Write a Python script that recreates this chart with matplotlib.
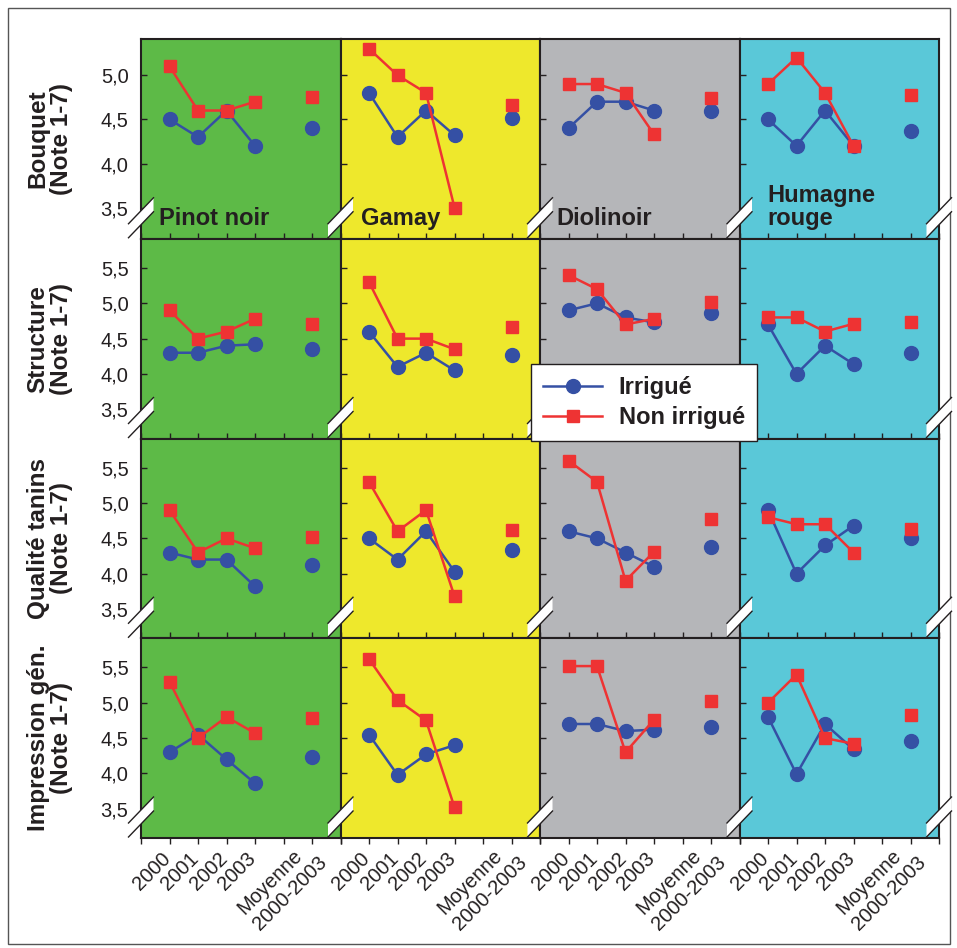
import matplotlib.pyplot as plt
import numpy as np
from matplotlib.lines import Line2D
from matplotlib.patches import Polygon, Rectangle
from matplotlib.ticker import FuncFormatter
from matplotlib.transforms import ScaledTranslation

plt.rcParams["font.family"] = ["Liberation Sans", "DejaVu Sans"]

cepages = ["Pinot noir", "Gamay", "Diolinoir", "Humagne\nrouge"]
criteres = ["Bouquet\n(Note 1-7)", "Structure\n(Note 1-7)",
            "Qualité tanins\n(Note 1-7)", "Impression gén.\n(Note 1-7)"]
x_labels = ["2000", "2001", "2002", "2003", "Moyenne\n2000-2003"]
x_pos = [0, 1, 2, 3, 5]

# 2000, 2001, 2002, 2003, moyenne 2000-2003 -- une ligne par cépage
irrigue_bouquet = [
    [4.50, 4.30, 4.60, 4.20, 4.40],
    [4.80, 4.30, 4.60, 4.32, 4.51],
    [4.40, 4.70, 4.70, 4.60, 4.60],
    [4.50, 4.20, 4.60, 4.20, 4.37],
]
non_irrigue_bouquet = [
    [5.10, 4.60, 4.60, 4.70, 4.75],
    [5.30, 5.00, 4.80, 3.50, 4.66],
    [4.90, 4.90, 4.80, 4.33, 4.74],
    [4.90, 5.20, 4.80, 4.20, 4.78],
]
irrigue_structure = [
    [4.30, 4.30, 4.40, 4.42, 4.36],
    [4.60, 4.10, 4.30, 4.05, 4.27],
    [4.90, 5.00, 4.80, 4.73, 4.86],
    [4.70, 4.00, 4.40, 4.14, 4.30],
]
non_irrigue_structure = [
    [4.90, 4.50, 4.60, 4.78, 4.71],
    [5.30, 4.50, 4.50, 4.35, 4.66],
    [5.40, 5.20, 4.70, 4.78, 5.02],
    [4.80, 4.80, 4.60, 4.71, 4.73],
]
irrigue_tanins = [
    [4.30, 4.20, 4.20, 3.82, 4.13],
    [4.50, 4.20, 4.60, 4.03, 4.33],
    [4.60, 4.50, 4.30, 4.10, 4.38],
    [4.90, 4.00, 4.40, 4.68, 4.51],
]
non_irrigue_tanins = [
    [4.90, 4.30, 4.50, 4.36, 4.52],
    [5.30, 4.60, 4.90, 3.68, 4.62],
    [5.60, 5.30, 3.90, 4.31, 4.78],
    [4.80, 4.70, 4.70, 4.30, 4.63],
]
irrigue_impression = [
    [4.30, 4.55, 4.20, 3.86, 4.23],
    [4.55, 3.98, 4.27, 4.40, np.nan],
    [4.70, 4.70, 4.60, 4.62, 4.66],
    [4.80, 3.99, 4.70, 4.34, 4.46],
]
non_irrigue_impression = [
    [5.30, 4.50, 4.80, 4.57, 4.79],
    [5.62, 5.04, 4.75, 3.52, np.nan],
    [5.52, 5.52, 4.30, 4.76, 5.02],
    [5.00, 5.40, 4.50, 4.42, 4.83],
]

irrigue = [irrigue_bouquet, irrigue_structure, irrigue_tanins, irrigue_impression]
non_irrigue = [non_irrigue_bouquet, non_irrigue_structure,
               non_irrigue_tanins, non_irrigue_impression]

fonds = ["#5DBA47", "#EEE82C", "#B5B6B9", "#5AC8D8"]
bleu = "#3550A4"
rouge = "#EE3333"
noir = "#231F20"

W, H = 957, 948
fig, axes = plt.subplots(4, 4, figsize=(W / 100, H / 100), dpi=100,
                         gridspec_kw=dict(wspace=0, hspace=0))
fig.subplots_adjust(left=141 / W, right=939 / W, top=1 - 39 / H, bottom=1 - 838 / H)

virgule = FuncFormatter(lambda v, p: f"{v:.1f}".replace(".", ","))
titre_x = [0.09, 0.105, 0.08, 0.14]

# petits décalages (en pixels) des étiquettes inclinées
decal_annee = ScaledTranslation(-9 / 100, 1.6 / 100, fig.dpi_scale_trans)
decal_moy = ScaledTranslation(-10 / 100, 13.6 / 100, fig.dpi_scale_trans)

for i in range(4):
    for j in range(4):
        ax = axes[i, j]
        ax.set_facecolor(fonds[j])
        irr = irrigue[i][j]
        non = non_irrigue[i][j]
        ax.plot(x_pos[:4], irr[:4], color=bleu, lw=1.8, marker="o", ms=10)
        ax.plot(x_pos[4], irr[4], color=bleu, ls="none", marker="o", ms=10)
        ax.plot(x_pos[:4], non[:4], color=rouge, lw=1.8, marker="s", ms=9)
        ax.plot(x_pos[4], non[4], color=rouge, ls="none", marker="s", ms=9)

        ax.set_xlim(-1, 6)
        if i == 0:
            ax.set_ylim(3.148, 5.41)
            ax.set_yticks([3.5, 4.0, 4.5, 5.0])
        else:
            ax.set_ylim(3.086, 5.914)
            ax.set_yticks([3.5, 4.0, 4.5, 5.0, 5.5])
        ax.yaxis.set_major_formatter(virgule)
        ax.tick_params(axis="y", direction="in", length=4, width=1, color=noir,
                       labelsize=14.5, labelcolor=noir, pad=9,
                       labelleft=(j == 0))
        ax.set_xticks(range(-1, 7))
        if i == 3:
            ax.set_xticklabels([""] + x_labels[:4] + [""] + [x_labels[4], ""])
            ax.tick_params(axis="x", direction="out", length=4, width=1, color=noir,
                           labelsize=14.5, labelcolor=noir, pad=5)
            for lab in ax.get_xticklabels():
                lab.set_rotation(45)
                lab.set_ha("right")
                lab.set_va("top")
                lab.set_rotation_mode("anchor")
                lab.set_multialignment("left")
                if "\n" in lab.get_text():
                    lab.set_transform(lab.get_transform() + decal_moy)
                else:
                    lab.set_transform(lab.get_transform() + decal_annee)
        else:
            ax.tick_params(axis="x", direction="in", length=4, width=1, color=noir,
                           labelbottom=False)
        for s in ax.spines.values():
            s.set_color(noir)
            s.set_linewidth(1.5)

        if i == 0:
            ax.text(titre_x[j], 0.07, cepages[j], transform=ax.transAxes,
                    fontsize=17, fontweight="bold", color=noir,
                    ha="left", va="baseline", linespacing=1.0)

    pos = axes[i, 0].get_position()
    fig.text(50 / W, (pos.y0 + pos.y1) / 2, criteres[i], rotation=90,
             ha="center", va="center", multialignment="center",
             fontsize=17.5, fontweight="bold", color=noir, linespacing=1.05)


# marques de coupure "//" sur les bords verticaux, en bas de chaque panneau
def coupure(xp, yp):
    dx, dy, e = 12.5, 13, 7
    pts = []
    for off in (-e, e):
        y = yp + off
        pts.append(((xp - dx) / W, 1 - (y + dy) / H))
        pts.append(((xp + dx) / W, 1 - (y - dy) / H))
    fig.add_artist(Polygon([pts[0], pts[1], pts[3], pts[2]], closed=True,
                           transform=fig.transFigure, facecolor="white",
                           edgecolor="none", zorder=3))
    for k in (0, 2):
        fig.add_artist(Line2D([pts[k][0], pts[k + 1][0]], [pts[k][1], pts[k + 1][1]],
                              transform=fig.transFigure, color=noir, lw=1.0, zorder=4))


for i in range(4):
    pos_row = axes[i, 0].get_position()
    yb = (1 - pos_row.y0) * H - 21
    bords = [axes[i, 0].get_position().x0 * W] + [axes[i, j].get_position().x1 * W for j in range(4)]
    for xb in bords:
        coupure(xb, yb)

handles = [
    Line2D([], [], color=bleu, lw=1.8, marker="o", ms=10),
    Line2D([], [], color=rouge, lw=1.8, marker="s", ms=9),
]
leg = fig.legend(handles, ["Irrigué", "Non irrigué"], loc="center",
                 bbox_to_anchor=((531 + 757) / 2 / W, 1 - (360 + 445) / 2 / H),
                 prop=dict(size=17, weight="bold"), frameon=True, fancybox=False,
                 edgecolor=noir, framealpha=1, handlelength=2.5, borderpad=0.5,
                 labelspacing=0.3, handletextpad=0.7, numpoints=1)
leg.get_frame().set_linewidth(1.0)
leg.set_zorder(10)
for t in leg.get_texts():
    t.set_color(noir)

fig.add_artist(Rectangle((8 / W, 1 - 944 / H), 942 / W, 936 / H, transform=fig.transFigure,
                         facecolor="none", edgecolor="#555555", lw=1.0))

fig.savefig("out.png", dpi=100)
